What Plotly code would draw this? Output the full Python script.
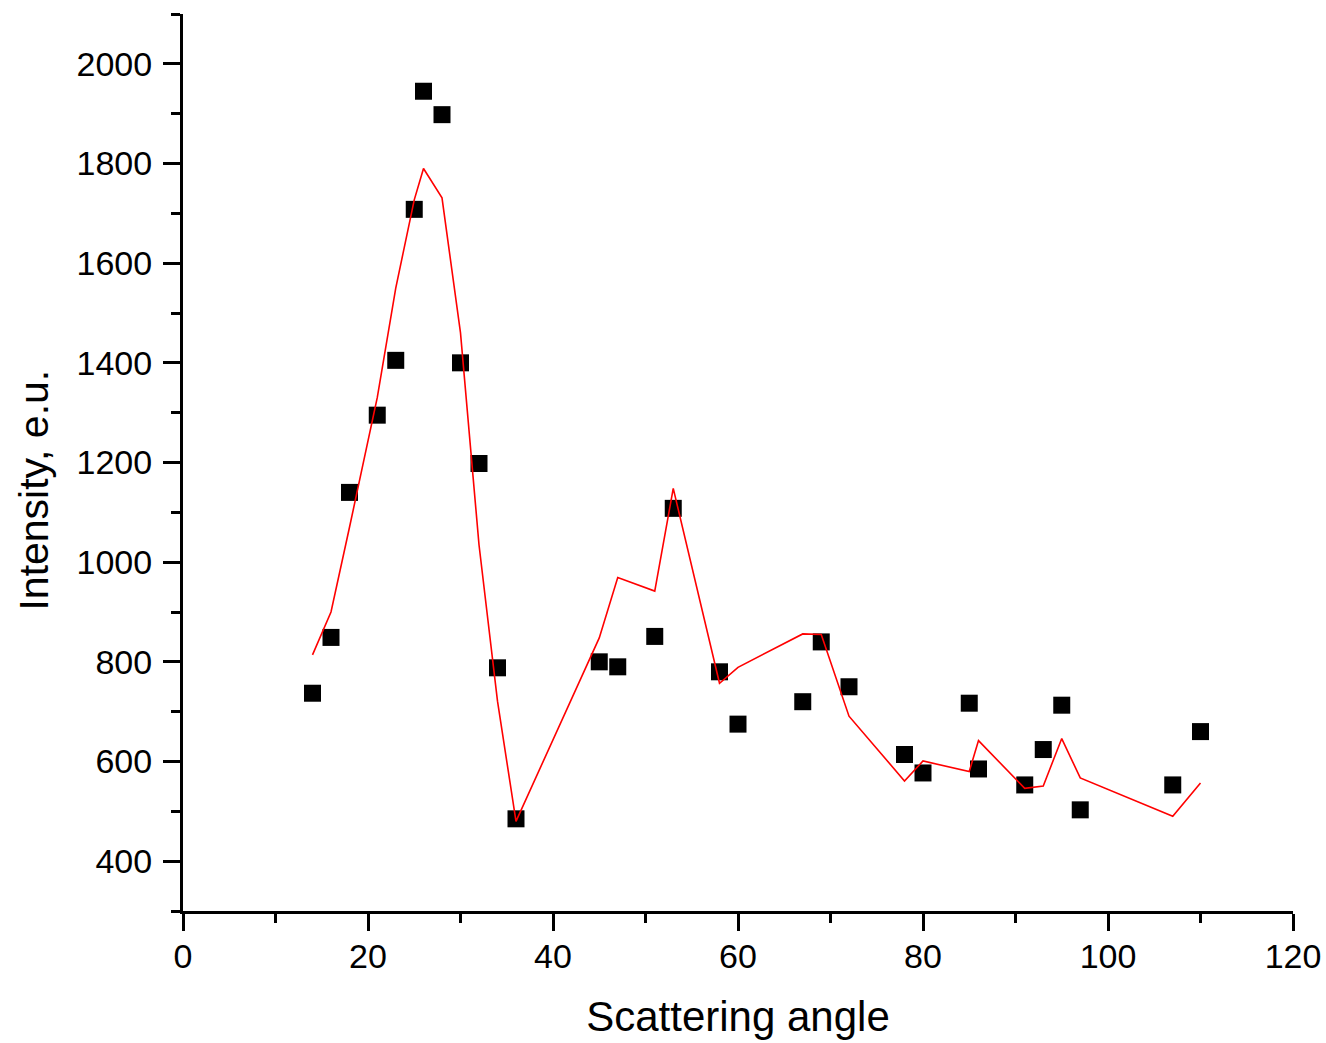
import plotly.graph_objects as go

# Measured intensities (black squares)
angle = [14, 16, 18, 21, 23, 25, 26, 28, 30, 32, 34, 36, 45, 47, 51, 53, 58, 60,
         67, 69, 72, 78, 80, 85, 86, 91, 93, 95, 97, 107, 110]
intensity = [737, 849, 1140, 1295, 1405, 1708, 1945, 1898, 1400, 1198, 788, 485,
             800, 790, 851, 1108, 780, 675, 720, 840, 750, 614, 577, 717, 585,
             553, 624, 713, 503, 553, 660]

# Calculated curve (red line)
calc_angle = [14, 16, 18, 21, 23, 25, 26, 28, 30, 32, 34, 36, 45, 47, 51, 53,
              58, 60, 67, 69, 72, 78, 80, 85, 86, 91, 93, 95, 97, 107, 110]
calc_intensity = [814, 900, 1070, 1330, 1550, 1727, 1790, 1731, 1460, 1035, 721,
                  480, 848, 969, 942, 1148, 757, 789, 856, 855, 691, 561, 601,
                  580, 642, 546, 551, 646, 567, 490, 557]

x_ticks = [0, 20, 40, 60, 80, 100, 120]
y_ticks = [400, 600, 800, 1000, 1200, 1400, 1600, 1800, 2000]

FONT = "Arial, Liberation Sans, sans-serif"

fig = go.Figure()
fig.add_trace(go.Scatter(
    x=angle, y=intensity, mode="markers",
    marker=dict(symbol="square", size=17, color="black", line=dict(width=0)),
    showlegend=False,
))
fig.add_trace(go.Scatter(
    x=calc_angle, y=calc_intensity, mode="lines",
    line=dict(color="#ff0000", width=1.6),
    showlegend=False,
))

axis_common = dict(
    showline=True, linecolor="black", linewidth=3, mirror=False,
    showgrid=False, zeroline=False, automargin=False,
    ticks="outside", ticklen=17, tickwidth=3, tickcolor="black",
    tickfont=dict(family=FONT, size=34, color="black"),
)

fig.update_xaxes(
    **axis_common,
    range=[0, 120], tickvals=x_ticks, ticklabelstandoff=-4,
    minor=dict(dtick=10, tick0=0, ticks="outside", ticklen=9, tickwidth=3,
               tickcolor="black", showgrid=False),
    title=dict(text="Scattering angle", font=dict(family=FONT, size=42, color="black"),
               standoff=28),
)
fig.update_yaxes(
    **axis_common,
    range=[300, 2100], tickvals=y_ticks, ticklabelstandoff=4,
    minor=dict(dtick=100, tick0=0, ticks="outside", ticklen=9, tickwidth=3,
               tickcolor="black", showgrid=False),
)

# Y-axis title, placed a little below the middle of the axis
fig.add_annotation(
    text="Intensity, e.u.", textangle=-90, showarrow=False,
    xref="paper", yref="paper", x=-0.134, y=0.469,
    xanchor="center", yanchor="middle",
    font=dict(family=FONT, size=41, color="black"),
)

fig.update_layout(
    width=1326, height=1043,
    margin=dict(l=183, r=33, t=14, b=132),
    plot_bgcolor="white", paper_bgcolor="white",
)

fig.write_html("out.html")
